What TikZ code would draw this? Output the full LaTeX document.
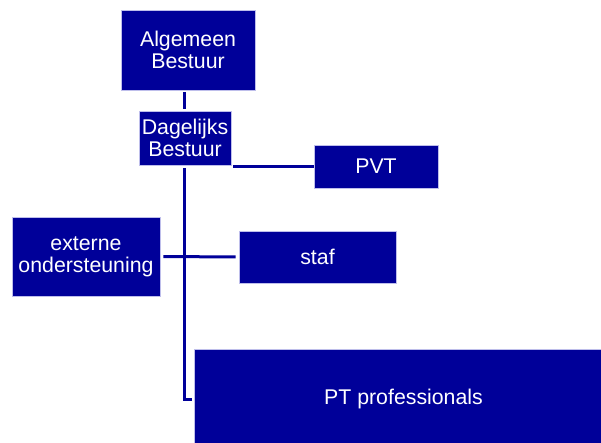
\documentclass[tikz,border=0pt]{standalone}
\usepackage{fontspec}
\setmainfont{Liberation Sans}
\usepackage{xcolor}
\usetikzlibrary{positioning,calc}
\definecolor{orgblue}{RGB}{0,0,153}
\definecolor{orgedge}{RGB}{190,190,235}
\tikzset{
  orgbox/.style={draw=orgedge, line width=0.8pt, fill=orgblue, text=white, align=center, inner sep=0pt,
    font=\fontsize{21.3}{22}\selectfont},
  orgline/.style={draw=orgblue, line width=3pt}
}

\begin{document}
\begin{tikzpicture}[x=1pt, y=-1pt]
        \useasboundingbox (0,0) rectangle (601,443);
        \node[orgbox, minimum width=134pt, minimum height=80pt] (ab) at (188,50) {Algemeen\\Bestuur};
        \node[orgbox, minimum width=92pt, minimum height=54pt] (db) at (185,138) {Dagelijks\\Bestuur};
        \node[orgbox, minimum width=124pt, minimum height=43pt] (pvt) at (376,166.5) {PVT};
        \node[orgbox, minimum width=148pt, minimum height=79pt] (ext) at (86,256.5) {externe\\ondersteuning};
        \node[orgbox, minimum width=157pt, minimum height=52pt] (staf) at (317.5,257) {staf};
        \node[orgbox, minimum width=419pt, minimum height=100pt] (pt) at (403.5,399) {PT professionals};

        \draw[orgline, shorten <=2pt, shorten >=2pt] (ab.south -| 184,0) -- (db.north -| 184,0);
        \draw[orgline, shorten <=2pt] (db.south east |- pvt.west) -- (pvt.west);
        \draw[orgline, shorten <=3pt, shorten >=3pt] (ext.east) -- (staf.west);
        \draw[orgline, shorten <=3pt, shorten >=2pt] (db.south -| 184,0) |- (pt.west);
    \end{tikzpicture}
\end{document}
